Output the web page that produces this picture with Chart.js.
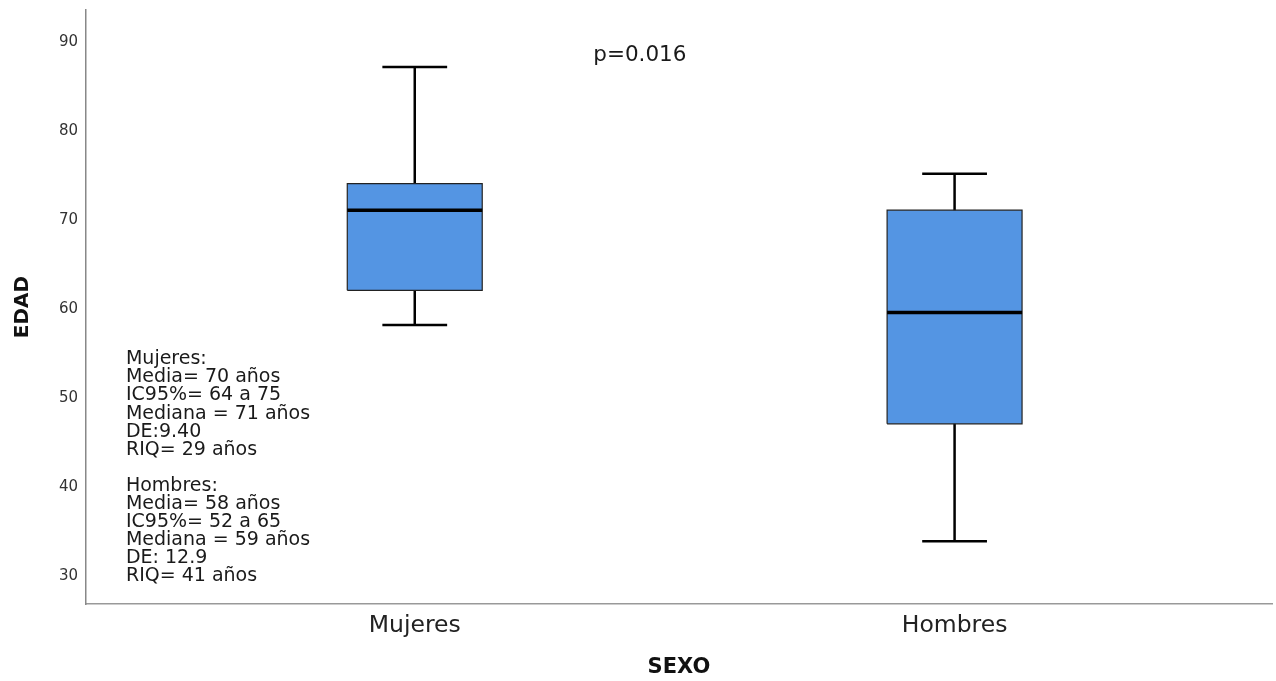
<!DOCTYPE html>
<html>
<head>
<meta charset="utf-8">
<script src="https://cdn.jsdelivr.net/npm/chart.js@4.4.1/dist/chart.umd.min.js"></script>
<style>
  html, body { margin: 0; padding: 0; background: #fff; }
  #wrap { width: 1276px; height: 681px; position: relative; }
</style>
</head>
<body>
<div id="wrap"><canvas id="c" width="1276" height="681"></canvas></div>
<script>
// ---- data ----
const categories = ['Mujeres', 'Hombres'];
const whiskerMin = [58.2, 33.9];
const q1 = [62.1, 47.1];
const median = [71.1, 59.6];
const q3 = [74.1, 71.1];
const whiskerMax = [87.2, 75.2];
const yTicks = [30, 40, 50, 60, 70, 80, 90];
const pValueText = 'p=0.016';
const statsLines = [
  'Mujeres:', 'Media= 70 años', 'IC95%= 64 a 75', 'Mediana = 71 años', 'DE:9.40', 'RIQ= 29 años',
  '',
  'Hombres:', 'Media= 58 años', 'IC95%= 52 a 65', 'Mediana = 59 años', 'DE: 12.9', 'RIQ= 41 años'
];

// ---- styling ----
const BOX_HALF = 0.125;
const CAP_HALF = 0.06;
const FILL = 'rgb(84,149,227)';
const FONT = '"DejaVu Sans", Verdana, sans-serif';

const datasets = [];
categories.forEach((cat, i) => {
  const base = { type: 'scatter', showLine: true, pointRadius: 0, pointHoverRadius: 0, fill: false, tension: 0 };
  // median
  datasets.push(Object.assign({}, base, {
    data: [{x: i - BOX_HALF, y: median[i]}, {x: i + BOX_HALF, y: median[i]}],
    borderColor: '#000', borderWidth: 3.5
  }));
  // box outline
  datasets.push(Object.assign({}, base, {
    data: [{x: i - BOX_HALF, y: q1[i]}, {x: i + BOX_HALF, y: q1[i]}, {x: i + BOX_HALF, y: q3[i]},
           {x: i - BOX_HALF, y: q3[i]}, {x: i - BOX_HALF, y: q1[i]}],
    borderColor: '#222', borderWidth: 1.2
  }));
  // whiskers
  datasets.push(Object.assign({}, base, {
    data: [{x: i, y: whiskerMin[i]}, {x: i, y: q1[i]}], borderColor: '#000', borderWidth: 2.5
  }));
  datasets.push(Object.assign({}, base, {
    data: [{x: i, y: q3[i]}, {x: i, y: whiskerMax[i]}], borderColor: '#000', borderWidth: 2.5
  }));
  datasets.push(Object.assign({}, base, {
    data: [{x: i - CAP_HALF, y: whiskerMin[i]}, {x: i + CAP_HALF, y: whiskerMin[i]}], borderColor: '#000', borderWidth: 2.5
  }));
  datasets.push(Object.assign({}, base, {
    data: [{x: i - CAP_HALF, y: whiskerMax[i]}, {x: i + CAP_HALF, y: whiskerMax[i]}], borderColor: '#000', borderWidth: 2.5
  }));
  // box fill: bottom edge + top edge filled to previous
  datasets.push(Object.assign({}, base, {
    data: [{x: i - BOX_HALF, y: q1[i]}, {x: i + BOX_HALF, y: q1[i]}], borderColor: 'rgba(0,0,0,0)', borderWidth: 0
  }));
  datasets.push(Object.assign({}, base, {
    data: [{x: i - BOX_HALF, y: q3[i]}, {x: i + BOX_HALF, y: q3[i]}], borderColor: 'rgba(0,0,0,0)', borderWidth: 0,
    fill: '-1', backgroundColor: FILL
  }));
});

const textPlugin = {
  id: 'texts',
  afterDatasetsDraw(chart) {
    const ctx = chart.ctx;
    const xs = chart.scales.x, ys = chart.scales.y;
    ctx.save();
    ctx.fillStyle = '#1a1a1a';
    ctx.textBaseline = 'middle';
    ctx.font = '21.5px ' + FONT;
    ctx.textAlign = 'center';
    ctx.fillText(pValueText, xs.getPixelForValue(0.417), ys.getPixelForValue(88.5));
    ctx.font = '19px ' + FONT;
    ctx.textAlign = 'left';
    const x0 = xs.getPixelForValue(-0.535);
    const y0 = ys.getPixelForValue(54.35);
    statsLines.forEach((t, k) => { if (t) ctx.fillText(t, x0, y0 + k * 18.1); });
    ctx.restore();
  }
};

new Chart(document.getElementById('c'), {
  type: 'scatter',
  data: { datasets },
  options: {
    responsive: false,
    animation: false,
    events: [],
    layout: { padding: { top: 10, right: 4, left: 0, bottom: 0 } },
    plugins: { legend: { display: false }, tooltip: { enabled: false } },
    scales: {
      x: {
        type: 'linear', min: -0.609, max: 1.588,
        afterBuildTicks: (s) => { s.ticks = categories.map((c, i) => ({ value: i })); },
        afterFit: (s) => { s.height = 77; s.paddingLeft = 0; s.paddingRight = 0; },
        ticks: { callback: (v) => categories[v] !== undefined ? categories[v] : '', color: '#222',
                 font: { family: FONT, size: 23.5 }, padding: 8, maxRotation: 0, autoSkip: false },
        grid: { display: false, drawTicks: false },
        border: { display: true, color: '#999', width: 1.5 },
        title: { display: true, text: 'SEXO', color: '#111', font: { family: FONT, size: 21, weight: 'bold' },
                 padding: { top: 0, bottom: 1 } }
      },
      y: {
        type: 'linear', min: 26.85, max: 93.6,
        afterBuildTicks: (s) => { s.ticks = yTicks.map(v => ({ value: v })); },
        afterFit: (s) => { s.width = 86; s.paddingTop = 0; s.paddingBottom = 0; },
        ticks: { color: '#333', font: { family: FONT, size: 15 }, padding: 8 },
        grid: { display: false, drawTicks: false },
        border: { display: true, color: '#888', width: 1.5 },
        title: { display: true, text: 'EDAD', color: '#111', font: { family: FONT, size: 20, weight: 'bold' },
                 padding: { top: 11, bottom: 0 } }
      }
    }
  },
  plugins: [textPlugin]
});
</script>
</body>
</html>
